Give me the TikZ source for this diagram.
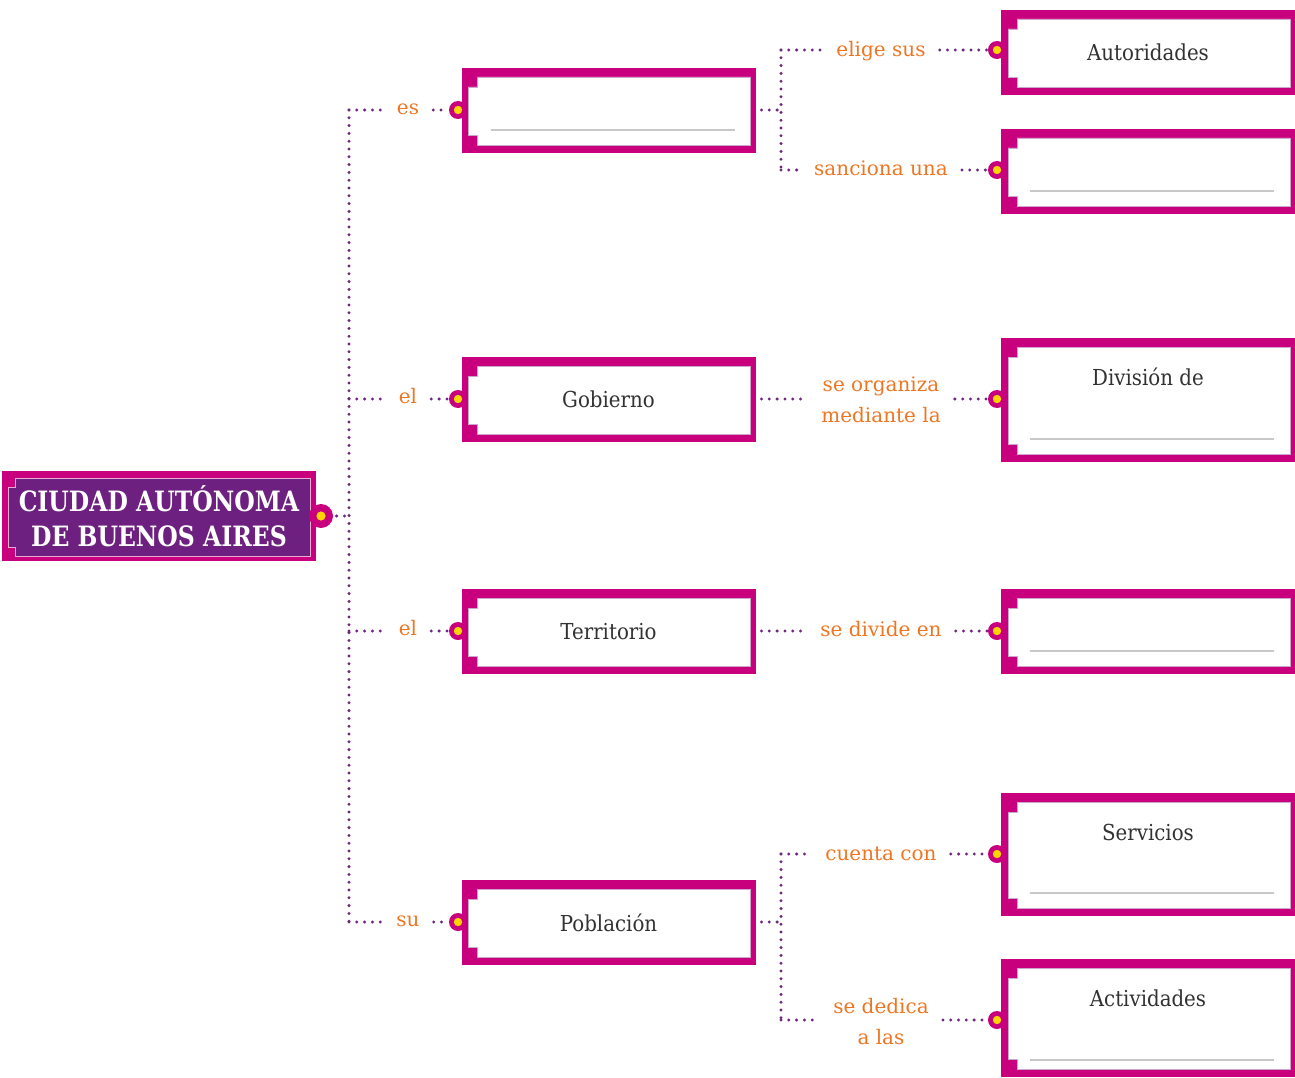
\documentclass[tikz,border=0pt]{standalone}
\usepackage{fontspec}
\setmainfont{DejaVu Serif}
\newfontfamily\labfont{DejaVu Serif}
\newfontfamily\boxfont[FakeStretch=0.9]{DejaVu Serif}
\newfontfamily\rootfont[FakeStretch=0.84]{DejaVu Serif}
\definecolor{mag}{RGB}{200,0,126}
\definecolor{rootpurple}{RGB}{110,32,128}
\definecolor{pinkline}{RGB}{232,172,212}
\definecolor{lav}{RGB}{205,165,205}
\definecolor{dotp}{RGB}{110,40,130}
\definecolor{orng}{RGB}{238,118,35}
\definecolor{yel}{RGB}{255,212,0}
\definecolor{gline}{RGB}{200,200,200}
\definecolor{txt}{RGB}{50,50,50}
\newcommand\framewhite{\fill[white,draw=lav,line width=0.8pt]
 ([shift={(16,9)}]path picture bounding box.north west) --
 ([shift={(-5,9)}]path picture bounding box.north east) --
 ([shift={(-5,-8)}]path picture bounding box.south east) --
 ([shift={(16,-8)}]path picture bounding box.south west) --
 ([shift={(16,-18)}]path picture bounding box.south west) --
 ([shift={(7,-18)}]path picture bounding box.south west) --
 ([shift={(7,19)}]path picture bounding box.north west) --
 ([shift={(16,19)}]path picture bounding box.north west) -- cycle;}
\newcommand\frameline{\draw[gline,line width=1.2pt]
 ([shift={(29,-\gl)}]path picture bounding box.south west) --
 ([shift={(-21,-\gl)}]path picture bounding box.south east);}
\newcommand\rootinner{\fill[rootpurple,draw=pinkline,line width=1pt]
 ([shift={(13,7)}]path picture bounding box.north west) --
 ([shift={(-6,7)}]path picture bounding box.north east) --
 ([shift={(-6,-5)}]path picture bounding box.south east) --
 ([shift={(13,-5)}]path picture bounding box.south west) --
 ([shift={(13,-14)}]path picture bounding box.south west) --
 ([shift={(6,-14)}]path picture bounding box.south west) --
 ([shift={(6,16)}]path picture bounding box.north west) --
 ([shift={(13,16)}]path picture bounding box.north west) -- cycle;}
\tikzset{
 gl/.store in=\gl, gl=23,
 dl/.style={draw=dotp, line width=3.3pt, line cap=round, dash pattern=on 0pt off 7.8pt},
 frame/.style={fill=mag, minimum width=294pt, minimum height=#1, inner sep=0pt,
   outer xsep=6pt, outer ysep=0pt, text=txt,
   font=\boxfont\fontsize{22}{26}\selectfont, path picture={\framewhite}},
 frameblank/.style={frame=#1, path picture={\framewhite\frameline}},
 boxtxt/.style={text=txt, font=\boxfont\fontsize{22}{26}\selectfont, inner sep=0pt, anchor=base},
 root/.style={fill=mag, minimum width=314pt, minimum height=90pt, inner sep=0pt,
   align=center, text=white, font=\rootfont\bfseries\fontsize{28}{35}\selectfont,
   path picture={\rootinner}},
 dotc/.style={circle, fill=mag, minimum size=18pt, inner sep=0pt,
   path picture={\fill[yel] (path picture bounding box.center) circle[radius=4.2pt];}},
 rootdotc/.style={circle, fill=mag, minimum size=24pt, inner sep=0pt,
   path picture={\fill[yel] (path picture bounding box.center) circle[radius=4.6pt];}},
 lab/.style={text=orng, font=\labfont\fontsize{20}{31}\selectfont, inner xsep=14pt, inner ysep=0pt, anchor=base},
 labtwo/.style={text=orng, font=\labfont\fontsize{20}{31}\selectfont, inner xsep=14pt, inner ysep=0pt, align=center, anchor=center},
}
\begin{document}
\begin{tikzpicture}[x=1pt,y=-1pt]
\useasboundingbox (0,0) rectangle (1295,1078);
% frames
\node[root] (root) at (159,516) {CIUDAD AUTÓNOMA\\DE BUENOS AIRES};
\node[frameblank=85pt] (m1) at (608.5,110.5) {};
\node[frame=85pt] (m2) at (608.5,399.5) {Gobierno};
\node[frame=85pt] (m3) at (608.5,631.5) {Territorio};
\node[frame=85pt] (m4) at (608.5,922.5) {Población};
\node[frame=85pt] (r1) at (1148,52.5) {Autoridades};
\node[frameblank=85pt] (r2) at (1148,171.5) {};
\node[frameblank=124pt] (r3) at (1148,400) {};
\node[frameblank=85pt] (r4) at (1148,631.5) {};
\node[frameblank=123pt] (r5) at (1148,854.5) {};
\node[frameblank=118pt, gl=17] (r6) at (1148,1018) {};
\node[boxtxt] (t3) at (1148,385) {División de};
\node[boxtxt] (t5) at (1148,840) {Servicios};
\node[boxtxt] (t6) at (1148,1006) {Actividades};
% labels
\node[lab] (les) at (408,114.5) {es};
\node[lab] (lel1) at (408,403.5) {el};
\node[lab] (lel2) at (408,635.5) {el};
\node[lab] (lsu) at (408,926.5) {su};
\node[lab] (lelige) at (881,57) {elige sus};
\node[lab] (lsanc) at (881,176) {sanciona una};
\node[labtwo] (lorg) at (881,400) {se organiza\\mediante la};
\node[lab] (ldiv) at (881,636) {se divide en};
\node[lab] (lcuenta) at (881,860) {cuenta con};
\node[labtwo] (ldedica) at (881,1021.5) {se dedica\\a las};
% junctions
\coordinate (jr) at (349,516);
\coordinate (t1) at (349,110);
\coordinate (t2) at (349,399);
\coordinate (t3c) at (349,631);
\coordinate (t4) at (349,922);
\coordinate (a0) at (781,110);
\coordinate (a1) at (781,50);
\coordinate (a2) at (781,170);
\coordinate (b0) at (781,922);
\coordinate (b1) at (781,854);
\coordinate (b2) at (781,1020);
\coordinate (prd) at (321,516);
% connectors
\draw[dl] (prd) -- (jr);
\draw[dl] (t1) -- (t4);
\draw[dl] (t1) -- (t1 -| les.west);
\draw[dl] (t2) -- (t2 -| lel1.west);
\draw[dl] (t3c) -- (t3c -| lel2.west);
\draw[dl] (t4) -- (t4 -| lsu.west);
\node[dotc] (md1) at (458,110) {};
\node[dotc] (md2) at (458,399) {};
\node[dotc] (md3) at (458,631) {};
\node[dotc] (md4) at (458,922) {};
\node[dotc] (rd1) at (997,50) {};
\node[dotc] (rd2) at (997,170) {};
\node[dotc] (rd3) at (997,399) {};
\node[dotc] (rd4) at (997,631) {};
\node[dotc] (rd5) at (997,854) {};
\node[dotc] (rd6) at (997,1020) {};
\node[rootdotc] (rootdot) at (prd) {};
\draw[dl] (t1 -| les.east) -- (md1);
\draw[dl] (t2 -| lel1.east) -- (md2);
\draw[dl] (t3c -| lel2.east) -- (md3);
\draw[dl] (t4 -| lsu.east) -- (md4);
\draw[dl] (m1.east |- a0) -- (a0);
\draw[dl] (a1) -- (a2);
\draw[dl] (a1) -- (a1 -| lelige.west);
\draw[dl] (a1 -| lelige.east) -- (rd1);
\draw[dl] (a2) -- (a2 -| lsanc.west);
\draw[dl] (a2 -| lsanc.east) -- (rd2);
\draw[dl] (m2.east |- rd3) -- (rd3 -| lorg.west);
\draw[dl] (rd3 -| lorg.east) -- (rd3);
\draw[dl] (m3.east |- rd4) -- (rd4 -| ldiv.west);
\draw[dl] (rd4 -| ldiv.east) -- (rd4);
\draw[dl] (m4.east |- b0) -- (b0);
\draw[dl] (b1) -- (b2);
\draw[dl] (b1) -- (b1 -| lcuenta.west);
\draw[dl] (b1 -| lcuenta.east) -- (rd5);
\draw[dl] (b2) -- (b2 -| ldedica.west);
\draw[dl] (b2 -| ldedica.east) -- (rd6);
\end{tikzpicture}
\end{document}
